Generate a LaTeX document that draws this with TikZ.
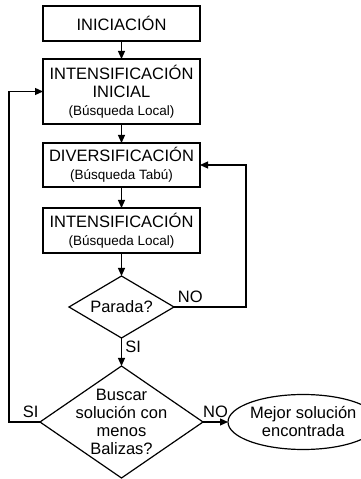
\documentclass[tikz,border=0pt]{standalone}
\usepackage{fontspec}
\setmainfont{Liberation Sans}
\usetikzlibrary{arrows.meta}
\usetikzlibrary{positioning}
\usetikzlibrary{shapes.geometric}

\newcommand{\subtexto}[1]{{\fontsize{13.5}{15}\selectfont #1}}

\tikzset{
  proceso/.style={draw, rectangle, minimum width=157pt, align=center, inner sep=2pt, outer sep=0pt},
  decision/.style={draw, diamond, align=center, inner sep=-20pt, outer sep=0pt},
  final/.style={draw, ellipse, align=center, inner sep=0pt, outer sep=0pt}
}

\begin{document}
\begin{tikzpicture}[x=1pt, y=1pt, line width=1.2pt,
    font=\fontsize{16.5}{18}\selectfont,
    >={Triangle[length=8pt, width=7pt]}]
    \useasboundingbox (0,0) rectangle (360,479);

    \node (inic) [proceso, minimum height=35pt] at (121.5,455.5) {INICIACIÓN};
    \node (intini) [proceso, minimum height=65pt, below = 18pt of inic]
      {INTENSIFICACIÓN\\INICIAL\\\subtexto{(Búsqueda Local)}};
    \node (divers) [proceso, minimum height=44pt, below = 19pt of intini]
      {DIVERSIFICACIÓN\\\subtexto{(Búsqueda Tabú)}};
    \node (intens) [proceso, minimum height=45pt, below = 21pt of divers]
      {INTENSIFICACIÓN\\\subtexto{(Búsqueda Local)}};

    \node (parada) [decision, minimum width=105pt, minimum height=62pt, below = 23pt of intens] {Parada?};
    \node (buscar) [decision, minimum width=163pt, minimum height=112pt, below = 28pt of parada]
      {Buscar\\solución con\\menos\\Balizas?};
    \node (mejor) [final, minimum width=133pt, minimum height=55pt, right = 25pt of buscar]
      {Mejor solución\\encontrada};

    \draw [->] (inic) -- (intini);
    \draw [->] (intini) -- (divers);
    \draw [->] (divers) -- (intens);
    \draw [->] (intens) -- (parada);

    \draw [->] (parada) -- node [right, pos=0.3] {SI} (buscar);
    \draw [->] (parada.east) -- node [above right, pos=0] {NO} ++(72,0) |- (divers.east);

    \draw [->] (buscar.west) -- node [above, pos=0.3] {SI} ++(-31,0) |- (intini.west);
    \draw [->] (buscar.east) -- node [above] {NO} (mejor.west);
  \end{tikzpicture}
\end{document}
